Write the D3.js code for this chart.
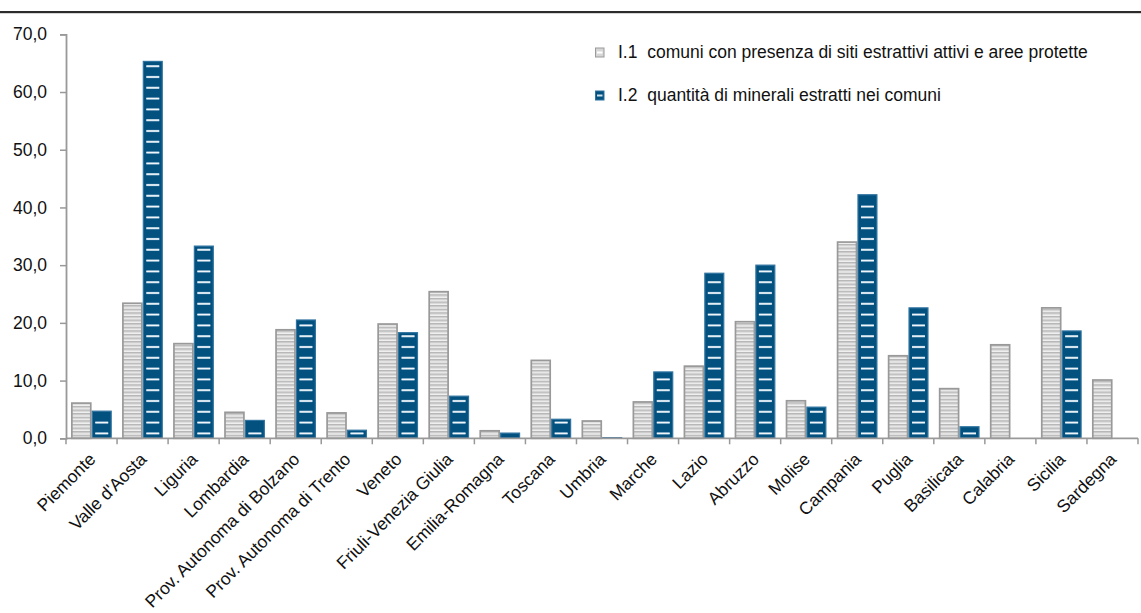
<!DOCTYPE html>
<html>
<head>
<meta charset="utf-8">
<script src="https://cdn.jsdelivr.net/npm/d3@7"></script>
<style>
  html, body { margin: 0; padding: 0; background: #fff; }
  svg { display: block; font-family: "Liberation Sans", Arial, sans-serif; }
  .legend text { white-space: pre; }
</style>
</head>
<body>
<svg id="chart" width="1141" height="613"></svg>
<script>
// Regioni e indicatori
const regioni = [
  "Piemonte", "Valle d'Aosta", "Liguria", "Lombardia", "Prov. Autonoma di Bolzano",
  "Prov. Autonoma di Trento", "Veneto", "Friuli-Venezia Giulia", "Emilia-Romagna",
  "Toscana", "Umbria", "Marche", "Lazio", "Abruzzo", "Molise", "Campania",
  "Puglia", "Basilicata", "Calabria", "Sicilia", "Sardegna"
];
const serie = ["I.1", "I.2"];
const serieLabels = [
  "I.1  comuni con presenza di siti estrattivi attivi e aree protette",
  "I.2  quantità di minerali estratti nei comuni"
];
const valoriI1 = [6.1, 23.4, 16.4, 4.5, 18.8, 4.4, 19.8, 25.4, 1.3, 13.5, 3.0, 6.3, 12.5, 20.2, 6.5, 34.0, 14.3, 8.6, 16.2, 22.6, 10.1];
const valoriI2 = [4.7, 65.3, 33.3, 3.1, 20.5, 1.4, 18.3, 7.3, 0.9, 3.3, 0.1, 11.5, 28.6, 30.0, 5.4, 42.2, 22.6, 2.0, 0, 18.6, 0];
const yTicks = [0, 10, 20, 30, 40, 50, 60, 70];

const svg = d3.select("#chart");
const plotLeft = 66, plotRight = 1138, plotTop = 34.3, plotBottom = 438.3;

const x0 = d3.scaleBand().domain(regioni).range([plotLeft, plotRight]).padding(0);
const bw = x0.bandwidth();
const x1 = d3.scaleBand().domain(serie).range([bw * 0.1, bw * 0.9]).padding(0);
const y = d3.scaleLinear().domain([0, 70]).range([plotBottom, plotTop]);

// Striped fill for the grey series
const defs = svg.append("defs");
const grey = defs.append("pattern")
  .attr("id", "pGrey").attr("patternUnits", "userSpaceOnUse")
  .attr("x", 0).attr("y", plotBottom).attr("width", 8).attr("height", 3.6);
grey.append("rect").attr("width", 8).attr("height", 3.6).attr("fill", "#f2f2f2");
grey.append("rect").attr("y", 0).attr("width", 8).attr("height", 1.5).attr("fill", "#b4b4b4");
grey.append("rect").attr("y", 1.5).attr("width", 8).attr("height", 0.8).attr("fill", "#d2d2d2");

const blueFill = "#03517f";

// Top rule
svg.append("rect").attr("x", 0).attr("y", 11).attr("width", 1141).attr("height", 2.2).attr("fill", "#2b2b2b");

// Y axis
const yAxis = d3.axisLeft(y).tickValues(yTicks).tickSize(6).tickPadding(13)
  .tickFormat(d => d3.format(".1f")(d).replace(".", ","));
const gy = svg.append("g").attr("transform", `translate(${plotLeft},0)`).call(yAxis);
gy.select(".domain").attr("stroke", "#999").attr("stroke-width", 1.8);
gy.selectAll(".tick line").attr("stroke", "#999").attr("stroke-width", 1.5);
gy.selectAll(".tick text").attr("font-size", 17.5).attr("fill", "#111")
  .attr("font-family", "Liberation Sans, Arial, sans-serif");

// Bars
const groups = svg.append("g").selectAll("g")
  .data(regioni.map((r, i) => ({ r, vals: [valoriI1[i], valoriI2[i]] })))
  .join("g")
  .attr("transform", d => `translate(${x0(d.r)},0)`);

groups.each(function(d) {
  const g = d3.select(this);
  // grey series
  const v1 = d.vals[0];
  g.append("rect")
    .attr("x", x1("I.1") + 0.75).attr("y", y(v1))
    .attr("width", x1.bandwidth() - 1.5).attr("height", Math.max(0, plotBottom - y(v1)))
    .attr("fill", "url(#pGrey)").attr("stroke", "#999").attr("stroke-width", 1.7);
  // blue series
  const v2 = d.vals[1];
  if (v2 > 0) {
    const bx = x1("I.2") + 0.75, bwid = x1.bandwidth() - 1.5;
    g.append("rect")
      .attr("x", bx).attr("y", y(v2))
      .attr("width", bwid).attr("height", Math.max(0.6, plotBottom - y(v2)))
      .attr("fill", blueFill).attr("stroke", "#2f73a0").attr("stroke-width", 1.2);
    // light dashes stacked from the baseline
    const step = 10.8;
    for (let k = 0; ; k++) {
      const sy = plotBottom - 5 - k * step;
      if (sy < y(v2) + 2.5) break;
      g.append("rect").attr("x", bx + 3).attr("y", sy - 1).attr("width", bwid - 6).attr("height", 2.2)
        .attr("fill", "#b9d2e3");
      g.append("rect").attr("x", bx + 3).attr("y", sy - 0.3).attr("width", bwid - 6).attr("height", 0.8)
        .attr("fill", "#ffffff");
    }
  }
});

// X axis
svg.append("line").attr("x1", plotLeft).attr("x2", plotRight).attr("y1", plotBottom).attr("y2", plotBottom)
  .attr("stroke", "#999").attr("stroke-width", 1.8);
const tickXs = regioni.map(r => x0(r)).concat([plotRight]);
svg.append("g").selectAll("line").data(tickXs).join("line")
  .attr("x1", d => d).attr("x2", d => d).attr("y1", plotBottom).attr("y2", plotBottom + 6)
  .attr("stroke", "#999").attr("stroke-width", 1.5);

svg.append("g").selectAll("text").data(regioni).join("text")
  .attr("transform", d => `translate(${x0(d) + bw / 2 + 5},${plotBottom + 22}) rotate(-45)`)
  .attr("text-anchor", "end")
  .attr("font-size", 17.5)
  .attr("fill", "#111")
  .text(d => d);

// Legend
const leg = svg.append("g").attr("class", "legend").selectAll("g").data(serieLabels).join("g")
  .attr("transform", (d, i) => `translate(595,${47.5 + i * 43})`);
leg.append("rect").attr("x", 0.5).attr("y", 0.5).attr("width", 8.5).attr("height", 9)
  .attr("fill", (d, i) => i === 0 ? "#d6d6d6" : blueFill)
  .attr("stroke", (d, i) => i === 0 ? "#9a9a9a" : "#2f73a0").attr("stroke-width", 1);
leg.append("rect").attr("x", 2).attr("y", 4).attr("width", 5.5).attr("height", 2)
  .attr("fill", (d, i) => i === 0 ? "#ffffff" : "#cfe0ec");
leg.append("text").attr("x", 23).attr("y", 10.5).attr("font-size", 17.5).attr("fill", "#111")
  .text(d => d);
</script>
</body>
</html>
